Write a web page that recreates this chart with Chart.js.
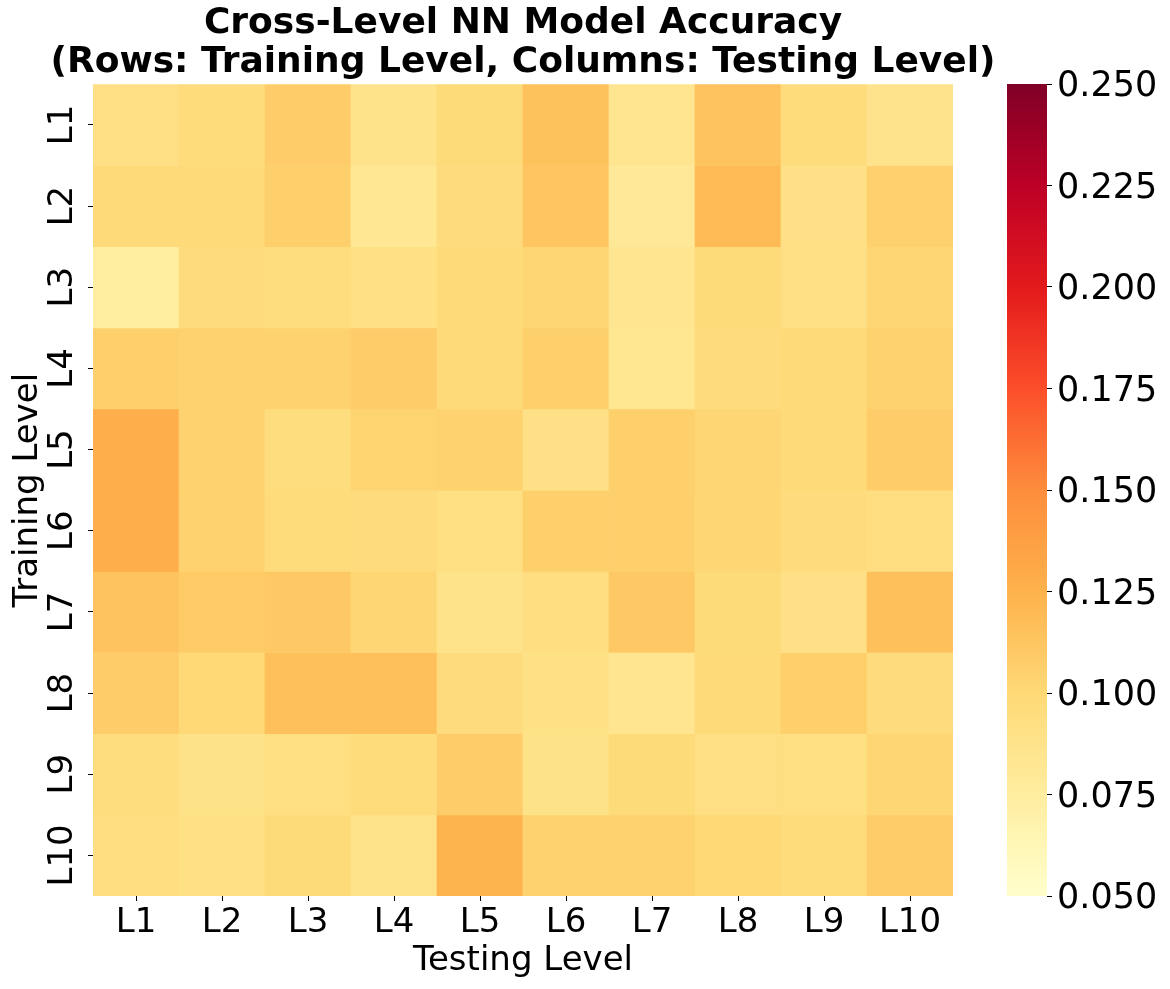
<!DOCTYPE html>
<html>
<head>
<meta charset="utf-8">
<script src="https://cdn.jsdelivr.net/npm/chart.js@4.4.1/dist/chart.umd.min.js"></script>
<style>
  html, body { margin: 0; padding: 0; background: #fff; }
  #wrap { position: relative; width: 1170px; height: 989px; }
  #heatBox { position: absolute; left: 0; top: 0; width: 1046px; height: 989px; }
  #barBox { position: absolute; left: 960px; top: 0; width: 210px; height: 989px; }
</style>
</head>
<body>
<div id="wrap">
  <div id="heatBox"><canvas id="heatChart" width="1046" height="989"></canvas></div>
  <div id="barBox"><canvas id="colorBar" width="210" height="989"></canvas></div>
</div>
<script>
// rows = training level, columns = testing level
const trainLevels = ['L1', 'L2', 'L3', 'L4', 'L5', 'L6', 'L7', 'L8', 'L9', 'L10'];
const testLevels = ['L1', 'L2', 'L3', 'L4', 'L5', 'L6', 'L7', 'L8', 'L9', 'L10'];

const accL1 = [0.092, 0.097, 0.108, 0.088, 0.098, 0.115, 0.085, 0.114, 0.097, 0.087];
const accL2 = [0.099, 0.099, 0.106, 0.082, 0.096, 0.113, 0.080, 0.120, 0.090, 0.105];
const accL3 = [0.075, 0.096, 0.095, 0.091, 0.099, 0.101, 0.085, 0.098, 0.092, 0.102];
const accL4 = [0.106, 0.104, 0.104, 0.108, 0.099, 0.106, 0.084, 0.096, 0.099, 0.104];
const accL5 = [0.128, 0.104, 0.095, 0.103, 0.104, 0.090, 0.106, 0.102, 0.099, 0.108];
const accL6 = [0.128, 0.104, 0.097, 0.096, 0.093, 0.106, 0.106, 0.101, 0.096, 0.094];
const accL7 = [0.114, 0.109, 0.110, 0.101, 0.088, 0.094, 0.111, 0.098, 0.090, 0.116];
const accL8 = [0.108, 0.100, 0.116, 0.116, 0.096, 0.091, 0.085, 0.099, 0.106, 0.096];
const accL9 = [0.095, 0.089, 0.093, 0.097, 0.108, 0.089, 0.098, 0.092, 0.093, 0.101];
const accL10 = [0.094, 0.091, 0.098, 0.088, 0.124, 0.104, 0.104, 0.100, 0.097, 0.108];
const accRows = [accL1, accL2, accL3, accL4, accL5, accL6, accL7, accL8, accL9, accL10];

const vMin = 0.05;
const vMax = 0.25;
const barTicks = [0.05, 0.075, 0.1, 0.125, 0.15, 0.175, 0.2, 0.225, 0.25];

// YlOrRd stops
const ylOrRd = ['#ffffcc', '#ffeda0', '#fed976', '#feb24c', '#fd8d3c', '#fc4e2a', '#e31a1c', '#bd0026', '#800026'];

function hexToRgb(h) {
    return [parseInt(h.substr(1, 2), 16), parseInt(h.substr(3, 2), 16), parseInt(h.substr(5, 2), 16)];
}

function colorFor(v) {
    let t = (v - vMin) / (vMax - vMin);
    t = Math.max(0, Math.min(1, t));
    const pos = t * (ylOrRd.length - 1);
    const i = Math.min(Math.floor(pos), ylOrRd.length - 2);
    const f = pos - i;
    const a = hexToRgb(ylOrRd[i]);
    const b = hexToRgb(ylOrRd[i + 1]);
    const c = a.map((x, k) => Math.round(x + (b[k] - x) * f));
    return 'rgb(' + c.join(',') + ')';
}

const FONT = 'DejaVu Sans';

// each training level is one stacked band of height 1
const heatDatasets = accRows.map((row, r) => ({
    label: trainLevels[r],
    data: row.map(() => 1),
    backgroundColor: row.map(v => colorFor(v)),
    borderWidth: 0,
    barPercentage: 1,
    categoryPercentage: 1
}));

new Chart(document.getElementById('heatChart'), {
    type: 'bar',
    data: { labels: testLevels, datasets: heatDatasets },
    options: {
        responsive: false,
        animation: false,
        layout: { padding: 0 },
        plugins: {
            legend: { display: false },
            tooltip: { enabled: false },
            title: {
                display: true,
                text: ['Cross-Level NN Model Accuracy', '(Rows: Training Level, Columns: Testing Level)'],
                color: '#000',
                font: { family: FONT, size: 36, weight: 'bold', lineHeight: 1.06 },
                padding: { top: 5, bottom: 3 }
            }
        },
        scales: {
            x: {
                stacked: true,
                grid: { display: true, drawOnChartArea: false, offset: false, tickLength: 5, color: '#000', tickWidth: 1 },
                border: { display: false },
                ticks: { color: '#000', font: { family: FONT, size: 34 }, padding: 2, maxRotation: 0 },
                title: { display: true, text: 'Testing Level', color: '#000', font: { family: FONT, size: 34 }, padding: { top: 0, bottom: 7 } },
                afterFit: (scale) => { scale.height = 93; }
            },
            y: {
                stacked: true,
                reverse: true,
                min: 0,
                max: 10,
                afterBuildTicks: (scale) => {
                    scale.ticks = trainLevels.map((_, i) => ({ value: i + 0.5 }));
                },
                grid: { display: true, drawOnChartArea: false, tickLength: 5, color: '#000', tickWidth: 1 },
                border: { display: false },
                ticks: {
                    color: '#000',
                    font: { family: FONT, size: 34 },
                    minRotation: 90,
                    maxRotation: 90,
                    crossAlign: 'center',
                    padding: -6,
                    callback: (v) => trainLevels[Math.floor(v)]
                },
                title: { display: true, text: 'Training Level', color: '#000', font: { family: FONT, size: 34 }, padding: { top: 8, bottom: 0 } },
                afterFit: (scale) => { scale.width = 93; }
            },
            // empty right-hand spacer so the title centres over the heatmap
            spacer: {
                type: 'linear',
                position: 'right',
                grid: { display: false },
                border: { display: false },
                ticks: { display: false },
                afterFit: (scale) => { scale.width = 93; }
            }
        }
    }
});

// colour bar
new Chart(document.getElementById('colorBar'), {
    type: 'bar',
    data: {
        labels: ['scale'],
        datasets: [{
            data: [[vMin, vMax]],
            borderWidth: 0,
            barPercentage: 1,
            categoryPercentage: 1,
            backgroundColor: (ctx) => {
                const area = ctx.chart.chartArea;
                if (!area) return ylOrRd[0];
                const g = ctx.chart.ctx.createLinearGradient(0, area.bottom, 0, area.top);
                ylOrRd.forEach((c, i) => g.addColorStop(i / (ylOrRd.length - 1), c));
                return g;
            }
        }]
    },
    options: {
        responsive: false,
        animation: false,
        layout: { padding: { left: 47, right: 0, top: 84, bottom: 93 } },
        plugins: { legend: { display: false }, tooltip: { enabled: false } },
        scales: {
            x: { display: false },
            y: {
                position: 'right',
                min: vMin,
                max: vMax,
                afterBuildTicks: (scale) => {
                    scale.ticks = barTicks.map(v => ({ value: v }));
                },
                grid: { display: true, drawOnChartArea: false, tickLength: 5, color: '#000' },
                border: { display: false },
                ticks: {
                    color: '#000',
                    font: { family: FONT, size: 35 },
                    padding: 5,
                    labelOffset: 3,
                    callback: (v) => Number(v).toFixed(3)
                },
                afterFit: (scale) => { scale.width = 123; }
            }
        }
    }
});
</script>
</body>
</html>
